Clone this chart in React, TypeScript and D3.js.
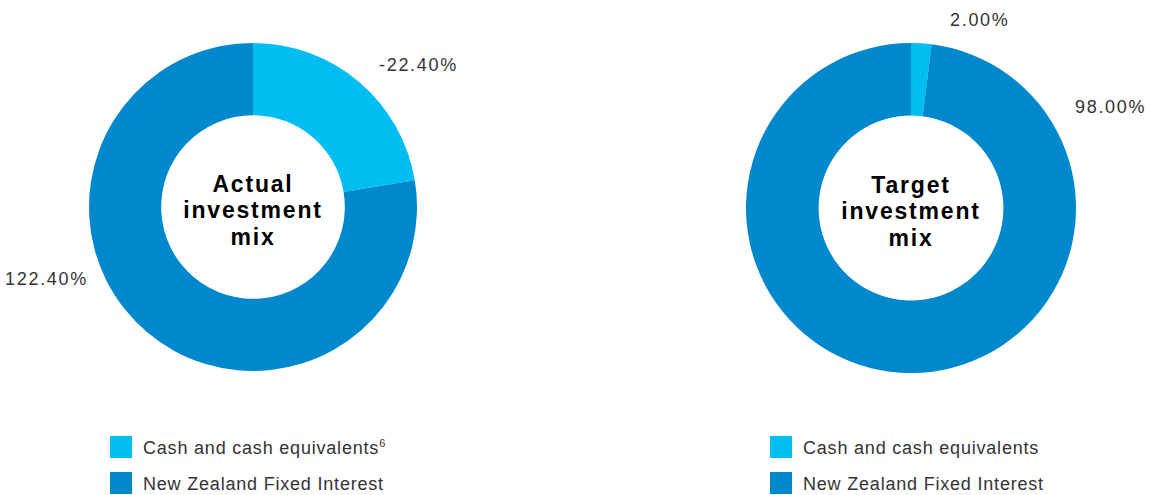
import * as d3 from 'd3';
import React, { useEffect, useRef } from 'react';

// categories and values
const categories = ['Cash and cash equivalents', 'New Zealand Fixed Interest'];
const actualValues = [-22.4, 122.4];
const targetValues = [2.0, 98.0];
// share of the ring each slice occupies in the picture
const actualShares = [22.4, 77.6];
const targetShares = [2.0, 98.0];
const colors = ['#00bdf2', '#0088cc'];

const width = 1152;
const height = 495;
const labelFont = '"Liberation Sans", Arial, sans-serif';

interface DonutSpec {
  cx: number;
  cy: number;
  r: number;
  title: string[];
  values: number[];
  shares: number[];
  labelPos: { dx: number; dy: number; anchor: string }[];
  legendX: number;
  footnote?: string;
}

const donuts: DonutSpec[] = [
  {
    cx: 253, cy: 207, r: 164,
    title: ['Actual', 'investment', 'mix'],
    values: actualValues,
    shares: actualShares,
    labelPos: [
      { dx: 126, dy: -136, anchor: 'start' },
      { dx: -165, dy: 78, anchor: 'end' },
    ],
    legendX: 110,
    footnote: '6',
  },
  {
    cx: 911, cy: 208, r: 165,
    title: ['Target', 'investment', 'mix'],
    values: targetValues,
    shares: targetShares,
    labelPos: [
      { dx: 39, dy: -182, anchor: 'start' },
      { dx: 164, dy: -95, anchor: 'start' },
    ],
    legendX: 770,
  },
];

const App: React.FC = () => {
  const ref = useRef<SVGSVGElement>(null);

  useEffect(() => {
    if (!ref.current) return;
    const svg = d3.select(ref.current);
    svg.selectAll('*').remove();

    // plain hyphen for negatives, as in the original
    const fmt = (v: number) => d3.format('.2f')(v).replace('\u2212', '-');

    donuts.forEach(spec => {
      const g = svg.append('g').attr('transform', `translate(${spec.cx},${spec.cy})`);
      const idx = d3.range(categories.length);

      const pie = d3.pie<number>().sort(null).value(i => spec.shares[i]);
      const arc = d3.arc<d3.PieArcDatum<number>>()
        .innerRadius(spec.r * 0.56)
        .outerRadius(spec.r);

      g.selectAll('path.slice')
        .data(pie(idx))
        .enter()
        .append('path')
        .attr('class', 'slice')
        .attr('d', arc)
        .attr('fill', d => colors[d.data]);

      // value labels
      g.selectAll('text.val')
        .data(idx)
        .enter()
        .append('text')
        .attr('class', 'val')
        .attr('x', i => spec.labelPos[i].dx)
        .attr('y', i => spec.labelPos[i].dy)
        .attr('text-anchor', i => spec.labelPos[i].anchor)
        .style('font-family', labelFont)
        .style('font-size', '18px')
        .style('letter-spacing', '1.7px')
        .style('fill', '#333')
        .text(i => `${fmt(spec.values[i])}%`);

      // centre title
      g.selectAll('text.title')
        .data(spec.title)
        .enter()
        .append('text')
        .attr('class', 'title')
        .attr('x', 0)
        .attr('y', (_, i) => (i - 1) * 26.5 + 11)
        .attr('text-anchor', 'middle')
        .style('font-family', labelFont)
        .style('font-weight', 'bold')
        .style('font-size', '23px')
        .style('letter-spacing', '1.8px')
        .style('fill', '#000')
        .text(d => d);

      // legend
      const legend = svg.selectAll(`g.legend-${spec.legendX}`)
        .data(idx)
        .enter()
        .append('g')
        .attr('transform', i => `translate(${spec.legendX},${436 + i * 36})`);

      legend.append('rect')
        .attr('width', 22)
        .attr('height', 22)
        .attr('fill', i => colors[i]);

      const lt = legend.append('text')
        .attr('x', 33)
        .attr('y', 18)
        .style('font-family', labelFont)
        .style('font-size', '18px')
        .style('letter-spacing', '0.8px')
        .style('fill', '#333')
        .text(i => categories[i]);

      if (spec.footnote) {
        lt.filter(i => i === 0)
          .append('tspan')
          .attr('dy', -7)
          .style('font-size', '11px')
          .style('letter-spacing', '0px')
          .text(spec.footnote);
      }
    });
  }, []);

  return (
    <svg
      ref={ref}
      width={width}
      height={height}
      style={{ position: 'absolute', left: 0, top: 0, background: '#fff' }}
    />
  );
};

export default App;
